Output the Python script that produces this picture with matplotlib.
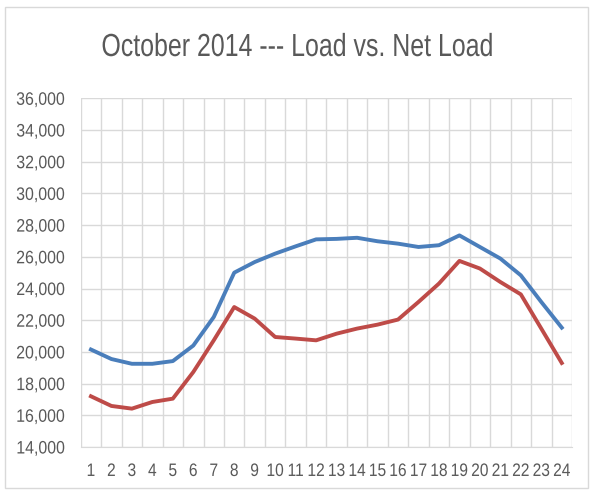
import matplotlib.pyplot as plt
from matplotlib.patches import Rectangle
from matplotlib.patheffects import AbstractPathEffect
from matplotlib.transforms import Affine2D

hours = list(range(1, 25))
load = [20150, 19550, 19250, 19250, 19420, 20400, 22200, 25000, 25670, 26200,
        26660, 27100, 27130, 27200, 26980, 26830, 26620, 26730, 27350, 26620,
        25890, 24830, 23150, 21530]
net_load = [17200, 16590, 16420, 16840, 17050, 18730, 20730, 22830, 22100, 20940,
            20840, 20730, 21150, 21470, 21720, 22040, 23150, 24310, 25740, 25260,
            24410, 23630, 21470, 19300]
y_ticks = list(range(14000, 36001, 2000))


# squeeze text sideways so Liberation Sans looks like Arial Narrow
class Narrow(AbstractPathEffect):
    def __init__(self, sx, anchor='center'):
        super().__init__()
        self.sx = sx
        self.anchor = anchor

    def draw_path(self, renderer, gc, tpath, affine, rgbFace=None):
        xs = affine.transform(tpath.vertices)[:, 0]
        x0 = xs.max() if self.anchor == 'right' else (xs.min() + xs.max()) / 2
        squeeze = Affine2D().translate(-x0, 0).scale(self.sx, 1).translate(x0, 0)
        renderer.draw_path(gc, tpath, affine + squeeze, rgbFace)


plt.rcParams['font.family'] = ['Liberation Sans', 'DejaVu Sans']

fig = plt.figure(figsize=(5.94, 4.94), dpi=100)
ax = fig.add_axes([80.7 / 594, 1 - 447 / 494, (572 - 80.7) / 594, (447 - 98.3) / 494])

ax.plot(hours, load, color='#4a7ebb', lw=2.8, solid_joinstyle='round')
ax.plot(hours, net_load, color='#be4b48', lw=2.8, solid_joinstyle='round')

ax.set_xlim(0.5, 24.5)
ax.set_ylim(14000, 36000)
ax.set_yticks(y_ticks)
ax.set_yticklabels([f'{v:,}' for v in y_ticks])
ax.set_xticks(hours)
ax.set_xticks([h + 0.5 for h in range(0, 25)], minor=True)
ax.grid(True, which='major', axis='y', color='#d9d9d9', lw=1)
ax.grid(True, which='minor', axis='x', color='#d9d9d9', lw=1)
ax.set_axisbelow(True)
ax.tick_params(which='both', length=0)
ax.tick_params(axis='y', pad=11.3, labelsize=13, labelcolor='#595959')
ax.tick_params(axis='x', pad=11.5, labelsize=13, labelcolor='#595959')
for lbl in ax.get_yticklabels():
    lbl.set_path_effects([Narrow(0.88, 'right')])
for lbl in ax.get_xticklabels():
    lbl.set_path_effects([Narrow(0.86)])
for s in ['top', 'right', 'left']:
    ax.spines[s].set_visible(False)
ax.spines['bottom'].set_color('#d9d9d9')

title = fig.text(298 / 594, 1 - 56 / 494, 'October 2014 --- Load vs. Net Load',
                 ha='center', va='baseline', fontsize=23, color='#595959')
title.set_path_effects([Narrow(0.78)])

fig.patches.append(Rectangle((5 / 594, 6 / 494), 583 / 594, 481 / 494,
                             transform=fig.transFigure, fill=False,
                             edgecolor='#d9d9d9', lw=1))

fig.savefig('out.png', dpi=100)
